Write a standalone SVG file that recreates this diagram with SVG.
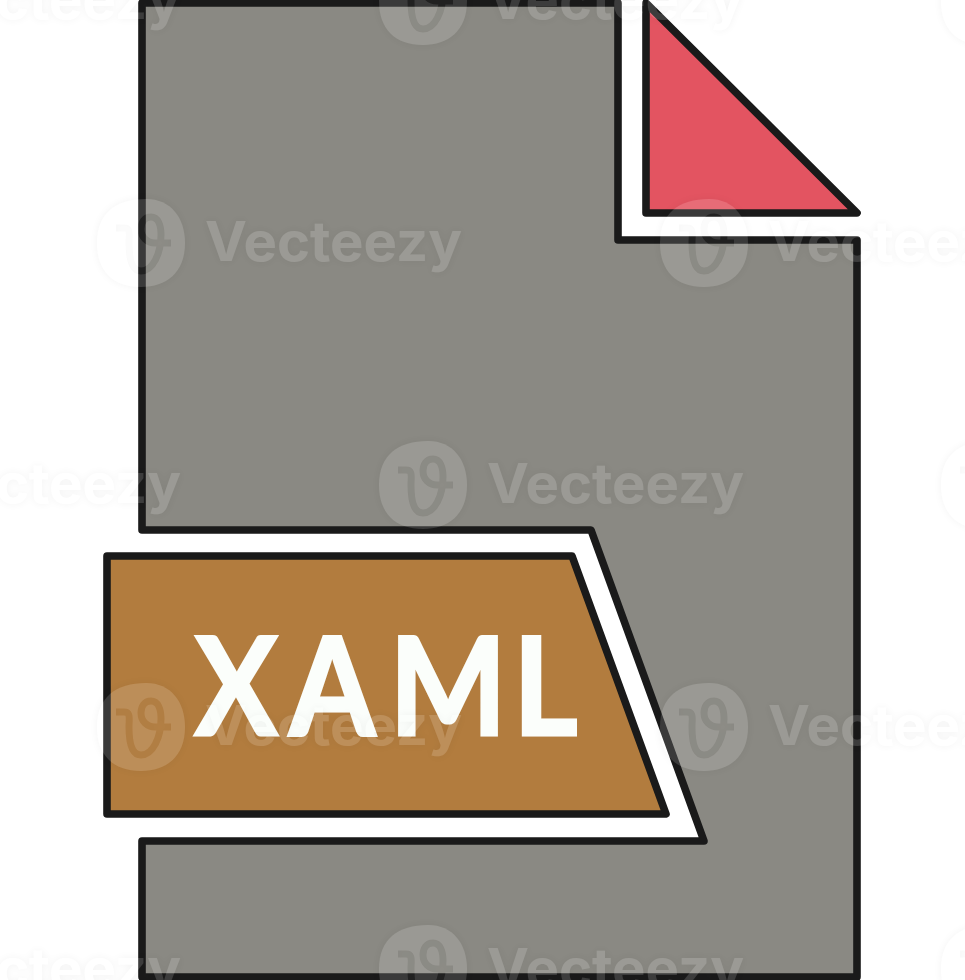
<svg xmlns="http://www.w3.org/2000/svg" xmlns:xlink="http://www.w3.org/1999/xlink" width="965" height="980" viewBox="0 0 965 980">
  <style>
    .o { stroke: #1a1a1a; stroke-width: 7.6; stroke-linejoin: round; }
    .label { font-family: "Lato", "Liberation Sans", sans-serif; font-weight: 700; font-size: 136px; fill: #fbfefb; stroke: #fbfefb; stroke-width: 3; stroke-linejoin: miter; }
    .wm { font-family: "Inter", "Liberation Sans", sans-serif; font-weight: 700; font-size: 55px; fill: #fff; fill-opacity: 0.15; }
    .logo { fill: #fff; fill-opacity: 0.14; }
  </style>
  <defs>
    <filter id="halo" filterUnits="userSpaceOnUse" x="-100" y="-60" width="1200" height="1100" color-interpolation-filters="sRGB">
      <feColorMatrix in="SourceAlpha" type="matrix" values="0 0 0 0 0  0 0 0 0 0  0 0 0 0 0  0 0 0 7 0" result="a"/>
      <feGaussianBlur in="a" stdDeviation="4" result="b"/>
      <feComponentTransfer in="b" result="c"><feFuncA type="linear" slope="0.05"/></feComponentTransfer>
      <feComposite in="c" in2="a" operator="out" result="d"/>
      <feMerge><feMergeNode in="d"/><feMergeNode in="SourceGraphic"/></feMerge>
    </filter>
    <mask id="vcut" maskUnits="userSpaceOnUse" x="-50" y="-50" width="100" height="100">
      <rect x="-50" y="-50" width="100" height="100" fill="#fff"/>
      <path d="M-25,-15 L-17,-15 C-10,-15 -12,-8 -12,0 C-12,14 -10,28 0,28 C12,28 20,10 20,-8 C20,-18 17,-26 10,-26 C3,-26 0,-20 0,-14 C0,-6 6,0 14,0 L30,0" fill="none" stroke="#000" stroke-width="7" stroke-opacity="0.75"/>
    </mask>
    <g id="vlogo">
      <path class="logo" mask="url(#vcut)" d="M-44,0 C-44,-30 -25,-44 5,-44 C30,-44 44,-25 44,0 C44,30 25,44 0,44 C-28,44 -44,28 -44,0Z"/>
    </g>
  </defs>
  <rect width="965" height="980" fill="#fff"/>
  <g id="page">
    <path class="o" fill="#8a8983" d="M142,3 L618,3 L618,240 L857,240 L857,977 L142,977 L142,841 L704,841 L591,530 L142,530 Z"/>
  </g>
  <g id="corner">
    <path class="o" fill="#e35461" d="M646,3 L857,213 L646,213 Z"/>
  </g>
  <g id="band">
    <path class="o" fill="#b27c3e" d="M107,556 L572,556 L666,814 L107,814 Z"/>
    <text class="label" transform="scale(0.91,1)" x="214 318 428 564" y="735.5">XAML</text>
  </g>
  <g id="watermark" filter="url(#halo)">
    <use xlink:href="#vlogo" href="#vlogo" x="423" y="1"/>
    <use xlink:href="#vlogo" href="#vlogo" x="985" y="1"/>
    <use xlink:href="#vlogo" href="#vlogo" x="141" y="243"/>
    <use xlink:href="#vlogo" href="#vlogo" x="704" y="243"/>
    <use xlink:href="#vlogo" href="#vlogo" x="423" y="485"/>
    <use xlink:href="#vlogo" href="#vlogo" x="985" y="485"/>
    <use xlink:href="#vlogo" href="#vlogo" x="141" y="727"/>
    <use xlink:href="#vlogo" href="#vlogo" x="704" y="727"/>
    <use xlink:href="#vlogo" href="#vlogo" x="423" y="969"/>
    <use xlink:href="#vlogo" href="#vlogo" x="985" y="969"/>
    <text class="wm" x="-76" y="19" textLength="257" lengthAdjust="spacingAndGlyphs">Vecteezy</text>
    <text class="wm" x="487" y="19" textLength="257" lengthAdjust="spacingAndGlyphs">Vecteezy</text>
    <text class="wm" x="205" y="261" textLength="257" lengthAdjust="spacingAndGlyphs">Vecteezy</text>
    <text class="wm" x="768" y="261" textLength="257" lengthAdjust="spacingAndGlyphs">Vecteezy</text>
    <text class="wm" x="-76" y="503" textLength="257" lengthAdjust="spacingAndGlyphs">Vecteezy</text>
    <text class="wm" x="487" y="503" textLength="257" lengthAdjust="spacingAndGlyphs">Vecteezy</text>
    <text class="wm" x="205" y="745" textLength="257" lengthAdjust="spacingAndGlyphs">Vecteezy</text>
    <text class="wm" x="768" y="745" textLength="257" lengthAdjust="spacingAndGlyphs">Vecteezy</text>
    <text class="wm" x="-76" y="988" textLength="257" lengthAdjust="spacingAndGlyphs">Vecteezy</text>
    <text class="wm" x="487" y="988" textLength="257" lengthAdjust="spacingAndGlyphs">Vecteezy</text>
  </g>
</svg>
